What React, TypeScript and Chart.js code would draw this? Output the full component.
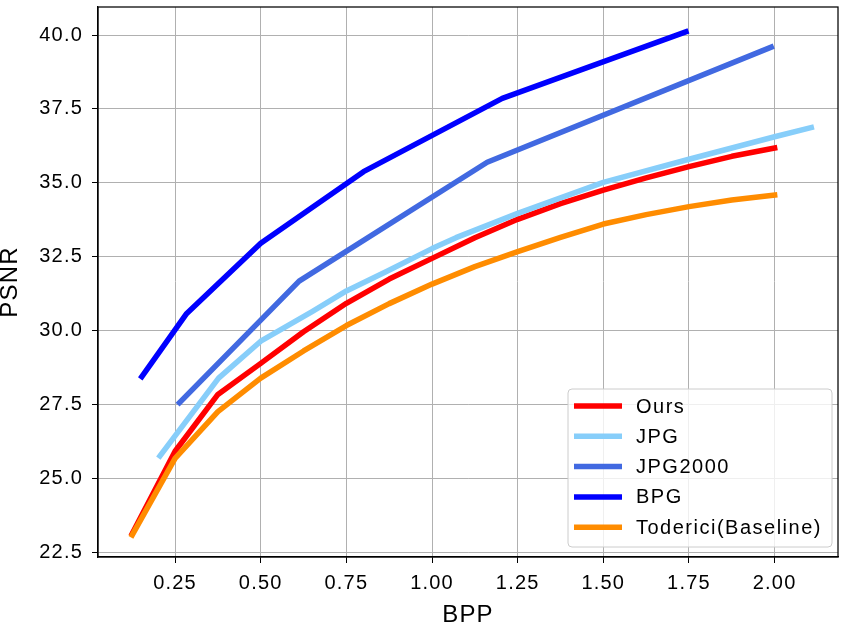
import React, { useEffect, useRef } from "react";
import { Chart, registerables } from "chart.js";

Chart.register(...registerables);

const FONT = "'Liberation Sans', Arial, Helvetica, sans-serif";

const seriesLabels = ["Ours", "JPG", "JPG2000", "BPG", "Toderici(Baseline)"];
const seriesColors = ["#ff0000", "#87cefa", "#4169e1", "#0000ff", "#ff8c00"];

const oursX = [0.125, 0.25, 0.375, 0.5, 0.625, 0.75, 0.875, 1.0, 1.125, 1.25, 1.375, 1.5, 1.625, 1.75, 1.875, 2.0];
const oursY = [23.15, 25.93, 27.85, 28.9, 29.97, 30.93, 31.75, 32.45, 33.15, 33.77, 34.3, 34.76, 35.17, 35.55, 35.9, 36.18];

const jpgX = [0.206, 0.377, 0.5, 0.65, 0.75, 0.87, 1.0, 1.07, 1.25, 1.5, 1.75, 2.0, 2.107];
const jpgY = [25.77, 28.4, 29.65, 30.65, 31.35, 32.02, 32.78, 33.15, 33.97, 35.02, 35.8, 36.56, 36.87];

const jp2kX = [0.263, 0.612, 1.161, 1.99];
const jp2kY = [27.57, 31.68, 35.7, 39.59];

const bpgX = [0.153, 0.284, 0.5, 0.8, 1.205, 1.741];
const bpgY = [28.45, 30.59, 32.96, 35.38, 37.86, 40.11];

const todX = [0.125, 0.25, 0.375, 0.5, 0.625, 0.75, 0.875, 1.0, 1.125, 1.25, 1.375, 1.5, 1.625, 1.75, 1.875, 2.0];
const todY = [23.1, 25.69, 27.27, 28.4, 29.32, 30.18, 30.92, 31.58, 32.17, 32.68, 33.16, 33.61, 33.93, 34.2, 34.42, 34.59];

const xTicks = [0.25, 0.5, 0.75, 1.0, 1.25, 1.5, 1.75, 2.0];
const yTicks = [22.5, 25.0, 27.5, 30.0, 32.5, 35.0, 37.5, 40.0];

const xTitle = "BPP";
const yTitle = "PSNR";

const toPoints = (xs: number[], ys: number[]) => xs.map((x, i) => ({ x, y: ys[i] }));

const seriesData = [
  toPoints(oursX, oursY),
  toPoints(jpgX, jpgY),
  toPoints(jp2kX, jp2kY),
  toPoints(bpgX, bpgY),
  toPoints(todX, todY),
];

const spacingPlugin = {
  id: "spacing",
  beforeUpdate(chart: any) {
    chart.ctx.letterSpacing = "1.2px";
  },
  beforeDraw(chart: any) {
    chart.ctx.letterSpacing = "1.2px";
  },
};

const framePlugin = {
  id: "frame",
  afterDatasetsDraw(chart: any) {
    const { ctx, chartArea: a } = chart;
    ctx.save();
    ctx.strokeStyle = "#000";
    ctx.lineWidth = 1.25;
    ctx.strokeRect(a.left, a.top, a.right - a.left, a.bottom - a.top);
    ctx.restore();
  },
};

const legendPlugin = {
  id: "customLegend",
  afterDraw(chart: any) {
    const { ctx } = chart;
    const bx = 568, by = 389, bw = 264, bh = 158, r = 4;
    ctx.save();
    ctx.beginPath();
    ctx.moveTo(bx + r, by);
    ctx.arcTo(bx + bw, by, bx + bw, by + bh, r);
    ctx.arcTo(bx + bw, by + bh, bx, by + bh, r);
    ctx.arcTo(bx, by + bh, bx, by, r);
    ctx.arcTo(bx, by, bx + bw, by, r);
    ctx.closePath();
    ctx.fillStyle = "rgba(255,255,255,0.8)";
    ctx.fill();
    ctx.strokeStyle = "#cccccc";
    ctx.lineWidth = 1;
    ctx.stroke();
    ctx.font = `20px ${FONT}`;
    ctx.letterSpacing = "1.5px";
    ctx.textBaseline = "middle";
    ctx.textAlign = "left";
    chart.data.datasets.forEach((ds: any, i: number) => {
      const y = 406 + i * 30.3;
      ctx.beginPath();
      ctx.strokeStyle = ds.borderColor;
      ctx.lineWidth = 5.5;
      ctx.lineCap = "butt";
      ctx.moveTo(574, y);
      ctx.lineTo(622, y);
      ctx.stroke();
      ctx.fillStyle = "#000";
      ctx.fillText(ds.label, 636, y + 1);
    });
    ctx.restore();
  },
};

export default function App() {
  const ref = useRef<HTMLCanvasElement | null>(null);

  useEffect(() => {
    document.body.style.margin = "0";
    const canvas = ref.current;
    if (!canvas) return;
    const chart = new Chart(canvas, {
      type: "line",
      data: {
        datasets: seriesLabels.map((label, i) => ({
          label,
          data: seriesData[i],
          borderColor: seriesColors[i],
          backgroundColor: seriesColors[i],
          borderWidth: 5.5,
          pointRadius: 0,
          fill: false,
          tension: 0,
          borderCapStyle: "square",
          borderJoinStyle: "round",
          order: seriesLabels.length - i,
        })),
      },
      options: {
        animation: false,
        responsive: false,
        maintainAspectRatio: false,
        layout: { padding: { top: 7, right: 10, left: 0, bottom: 0 } },
        plugins: {
          legend: { display: false },
          tooltip: { enabled: false },
          title: { display: false },
        },
        scales: {
          x: {
            type: "linear",
            min: 0.025,
            max: 2.185,
            afterBuildTicks: (scale: any) => {
              scale.ticks = xTicks.map((v) => ({ value: v }));
            },
            afterFit: (scale: any) => {
              scale.height = 75;
              scale.paddingLeft = 0;
              scale.paddingRight = 0;
            },
            ticks: {
              color: "#000",
              font: { family: FONT, size: 20 },
              padding: 8,
              maxRotation: 0,
              autoSkip: false,
              callback: (v: any) => Number(v).toFixed(2),
            },
            grid: {
              color: "#b0b0b0",
              lineWidth: 1,
              tickColor: "#000",
              tickLength: 6,
              tickWidth: 1,
            },
            border: { color: "#000", width: 1.25 },
            title: {
              display: true,
              text: xTitle,
              color: "#000",
              font: { family: FONT, size: 24 },
              padding: { top: 0, bottom: 2 },
            },
          },
          y: {
            type: "linear",
            min: 22.355,
            max: 40.947,
            afterBuildTicks: (scale: any) => {
              scale.ticks = yTicks.map((v) => ({ value: v }));
            },
            afterFit: (scale: any) => {
              scale.width = 98;
              scale.paddingTop = 0;
              scale.paddingBottom = 0;
            },
            ticks: {
              color: "#000",
              font: { family: FONT, size: 20 },
              padding: 9,
              autoSkip: false,
              callback: (v: any) => Number(v).toFixed(1),
            },
            grid: {
              color: "#b0b0b0",
              lineWidth: 1,
              tickColor: "#000",
              tickLength: 6,
              tickWidth: 1,
            },
            border: { color: "#000", width: 1.25 },
            title: {
              display: true,
              text: yTitle,
              color: "#000",
              font: { family: FONT, size: 24, lineHeight: 1 },
              padding: { top: -2, bottom: 0 },
            },
          },
        },
      },
      plugins: [spacingPlugin, framePlugin, legendPlugin],
    } as any);
    return () => chart.destroy();
  }, []);

  return (
    <div style={{ position: "absolute", left: 0, top: 0, width: 848, height: 632 }}>
      <canvas ref={ref} width={848} height={632} style={{ width: 848, height: 632, display: "block" }} />
    </div>
  );
}
